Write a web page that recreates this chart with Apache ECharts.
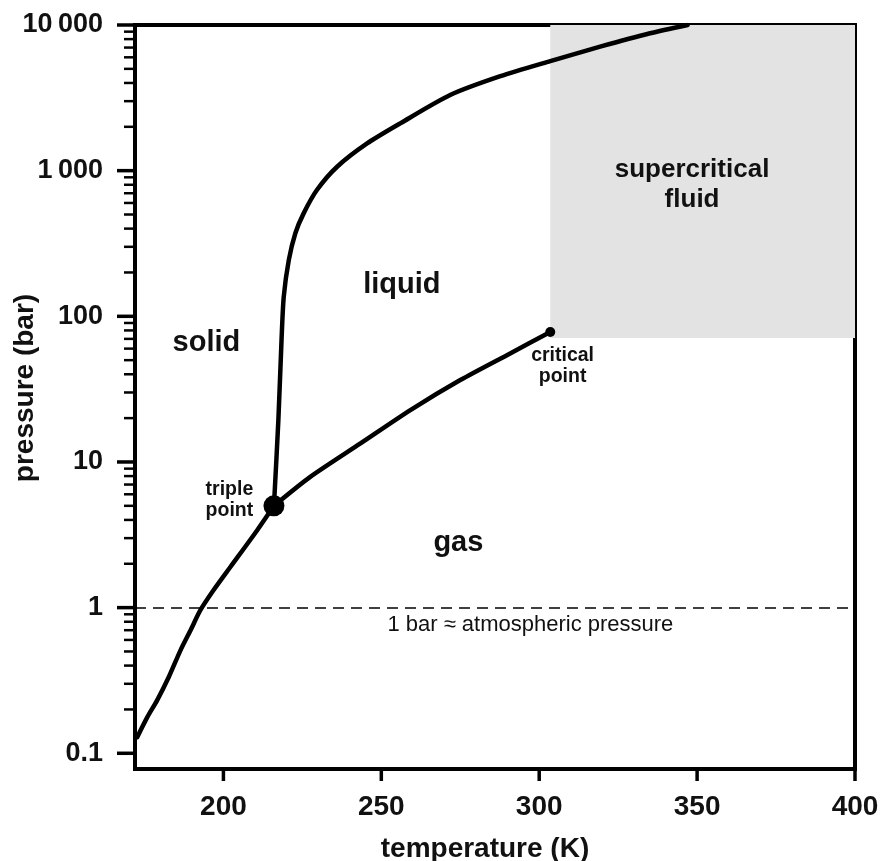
<!DOCTYPE html>
<html>
<head>
<meta charset="utf-8">
<title>CO2 phase diagram</title>
<script src="https://cdn.jsdelivr.net/npm/echarts@6.0.0/dist/echarts.min.js"></script>
<style>
  html, body { margin: 0; padding: 0; background: #fff; }
  #chart { width: 882px; height: 861px; }
</style>
</head>
<body>
<div id="chart"></div>
<script>
// phase boundaries (T in K, p in bar)
const sublimationT = [172.7, 175.9, 179.0, 182.7, 186.4, 189.6, 192.7, 196.9, 202.2, 210.7, 216.0];
const sublimationP = [0.129, 0.177, 0.231, 0.334, 0.509, 0.70, 0.96, 1.32, 1.90, 3.40, 5.0];

const meltingT = [216.0, 217.4, 218.4, 219.1, 220.7, 222.8, 225.4, 229.6, 236.0, 245.5, 256.0, 271.8, 287.7, 303.5, 319.3, 335.1, 347.0];
const meltingP = [5.0, 19.4, 68.7, 136, 243, 373, 509, 736, 1064, 1538, 2113, 3305, 4450, 5650, 7100, 8770, 10000];

const vaporT = [216.0, 227.5, 243.4, 259.2, 275.0, 290.8, 303.5];
const vaporP = [5.0, 7.9, 13.4, 22.7, 36.5, 55.6, 78];

const triplePoint = [216.0, 5.0];
const criticalPoint = [303.5, 78];

// supercritical region corners
const superMin = [303.5, 71];
const superMax = [400, 10000];

const atmPressure = 1;

// axis ranges and tick labels
const tMin = 172, tMax = 400;
const pMin = 0.078, pMax = 10000;
const xTicks = [200, 250, 300, 350, 400];
const yDecades = [0.1, 1, 10, 100, 1000, 10000];
const yTickText = { 10000: '10\u2009000', 1000: '1\u2009000', 100: '100', 10: '10', 1: '1', 0.1: '0.1' };

// text annotations and their anchors (data coords)
const regionNames = ['solid', 'liquid', 'gas'];
const regionAnchors = [[194.6, 66], [256.5, 164], [274.4, 2.77]];
const fluidName = 'supercritical\nfluid';
const fluidAnchor = [348.4, 800];
const pointNotes = ['triple\npoint', 'critical\npoint'];
const pointNoteAnchors = [[201.9, 5.5], [307.4, 45.5]];
const atmNote = '1 bar \u2248 atmospheric pressure';
const atmNoteAnchor = [297.2, 0.757];

const zip = (xs, ys) => xs.map((x, i) => [x, ys[i]]);
const FONT = '"Liberation Sans", Arial, sans-serif';
const INK = '#111';

// tick marks: [x, y, kind] with kind 0 = x major, 1 = y major, 2 = y minor
const tickData = [];
xTicks.forEach(t => tickData.push([t, pMin, 0]));
yDecades.forEach(d => {
  tickData.push([tMin, d, 1]);
  for (let m = 2; m <= 9; m++) {
    const v = d * m;
    if (v <= pMax) tickData.push([tMin, v, 2]);
  }
});

const chart = echarts.init(document.getElementById('chart'), null, { renderer: 'canvas' });

const curveStyle = { color: '#000', width: 4.5, cap: 'round', join: 'round' };

chart.setOption({
  animation: false,
  backgroundColor: '#fff',
  grid: {
    left: 135, right: 27, top: 25, bottom: 92,
    containLabel: false,
    outerBoundsMode: 'none',
    show: true, borderColor: '#000', borderWidth: 4, backgroundColor: 'transparent'
  },
  xAxis: {
    type: 'value',
    min: tMin, max: tMax,
    name: 'temperature (K)',
    nameLocation: 'middle',
    nameGap: 66,
    nameMoveOverlap: false,
    nameTextStyle: { fontFamily: FONT, fontWeight: 'bold', fontSize: 28, color: INK, padding: [0, 20, 0, 0] },
    splitLine: { show: false },
    axisLine: { lineStyle: { color: '#000', width: 4 } },
    axisTick: { show: false },
    axisLabel: {
      fontFamily: FONT, fontWeight: 'bold', fontSize: 28, color: INK, margin: 24,
      formatter: v => (v % 50 === 0 ? String(v) : '')
    }
  },
  yAxis: {
    type: 'log',
    logBase: 10,
    min: pMin, max: pMax,
    name: 'pressure (bar)',
    nameLocation: 'middle',
    nameGap: 96,
    nameMoveOverlap: false,
    nameTextStyle: { fontFamily: FONT, fontWeight: 'bold', fontSize: 28, color: INK, padding: [0, 0, 0, 18] },
    splitLine: { show: false },
    axisLine: { lineStyle: { color: '#000', width: 4 } },
    axisTick: { show: false },
    axisLabel: {
      fontFamily: FONT, fontWeight: 'bold', fontSize: 27, color: INK, margin: 32,
      formatter: v => {
        const key = Number(v.toPrecision(6));
        return yTickText[key] !== undefined ? yTickText[key] : '';
      }
    }
  },
  series: [
    {
      name: 'supercritical',
      type: 'line',
      data: [],
      silent: true,
      markArea: {
        silent: true,
        itemStyle: { color: '#e3e3e3', opacity: 1 },
        data: [[{ coord: superMin }, { coord: superMax }]]
      },
      markLine: {
        silent: true,
        symbol: ['none', 'none'],
        label: { show: false },
        lineStyle: { color: '#000', width: 1.5, type: [11, 7], opacity: 1 },
        data: [{ yAxis: atmPressure }]
      },
      z: 1
    },
    {
      name: 'ticks',
      type: 'custom',
      silent: true,
      clip: false,
      data: tickData,
      renderItem: (params, api) => {
        const kind = api.value(2);
        const pt = api.coord([api.value(0), api.value(1)]);
        let shape;
        if (kind === 0) shape = { x1: pt[0], y1: pt[1], x2: pt[0], y2: pt[1] + 12 };
        else if (kind === 1) shape = { x1: pt[0] - 18, y1: pt[1], x2: pt[0], y2: pt[1] };
        else shape = { x1: pt[0] - 11, y1: pt[1], x2: pt[0], y2: pt[1] };
        return {
          type: 'line',
          shape,
          style: { stroke: '#000', lineWidth: kind === 2 ? 2.5 : 3.5 }
        };
      },
      z: 2
    },
    {
      name: 'sublimation',
      type: 'line',
      data: zip(sublimationT, sublimationP),
      showSymbol: false,
      smooth: 0.25,
      lineStyle: curveStyle,
      z: 3
    },
    {
      name: 'melting',
      type: 'line',
      data: zip(meltingT, meltingP),
      showSymbol: false,
      smooth: 0.25,
      lineStyle: curveStyle,
      z: 3
    },
    {
      name: 'vaporization',
      type: 'line',
      data: zip(vaporT, vaporP),
      showSymbol: false,
      smooth: 0.25,
      lineStyle: curveStyle,
      z: 3
    },
    {
      name: 'points',
      type: 'scatter',
      itemStyle: { color: '#000', opacity: 1 },
      data: [
        { value: triplePoint, symbolSize: 21 },
        { value: criticalPoint, symbolSize: 10 }
      ],
      z: 4
    },
    {
      name: 'labels',
      type: 'scatter',
      symbolSize: 0,
      silent: true,
      itemStyle: { opacity: 1 },
      data: [
        ...regionNames.map((t, i) => ({
          name: t, value: regionAnchors[i],
          label: { fontSize: 29, fontWeight: 'bold', lineHeight: 32 }
        })),
        {
          name: fluidName, value: fluidAnchor,
          label: { fontSize: 26, fontWeight: 'bold', lineHeight: 30 }
        },
        ...pointNotes.map((t, i) => ({
          name: t, value: pointNoteAnchors[i],
          label: { fontSize: 19.5, fontWeight: 'bold', lineHeight: 21 }
        })),
        {
          name: atmNote, value: atmNoteAnchor,
          label: { fontSize: 22, fontWeight: 'normal', lineHeight: 24 }
        }
      ],
      label: {
        show: true,
        position: 'inside',
        formatter: '{b}',
        align: 'center',
        verticalAlign: 'middle',
        fontFamily: FONT,
        color: INK,
        opacity: 1
      },
      z: 5
    }
  ]
});
</script>
</body>
</html>
